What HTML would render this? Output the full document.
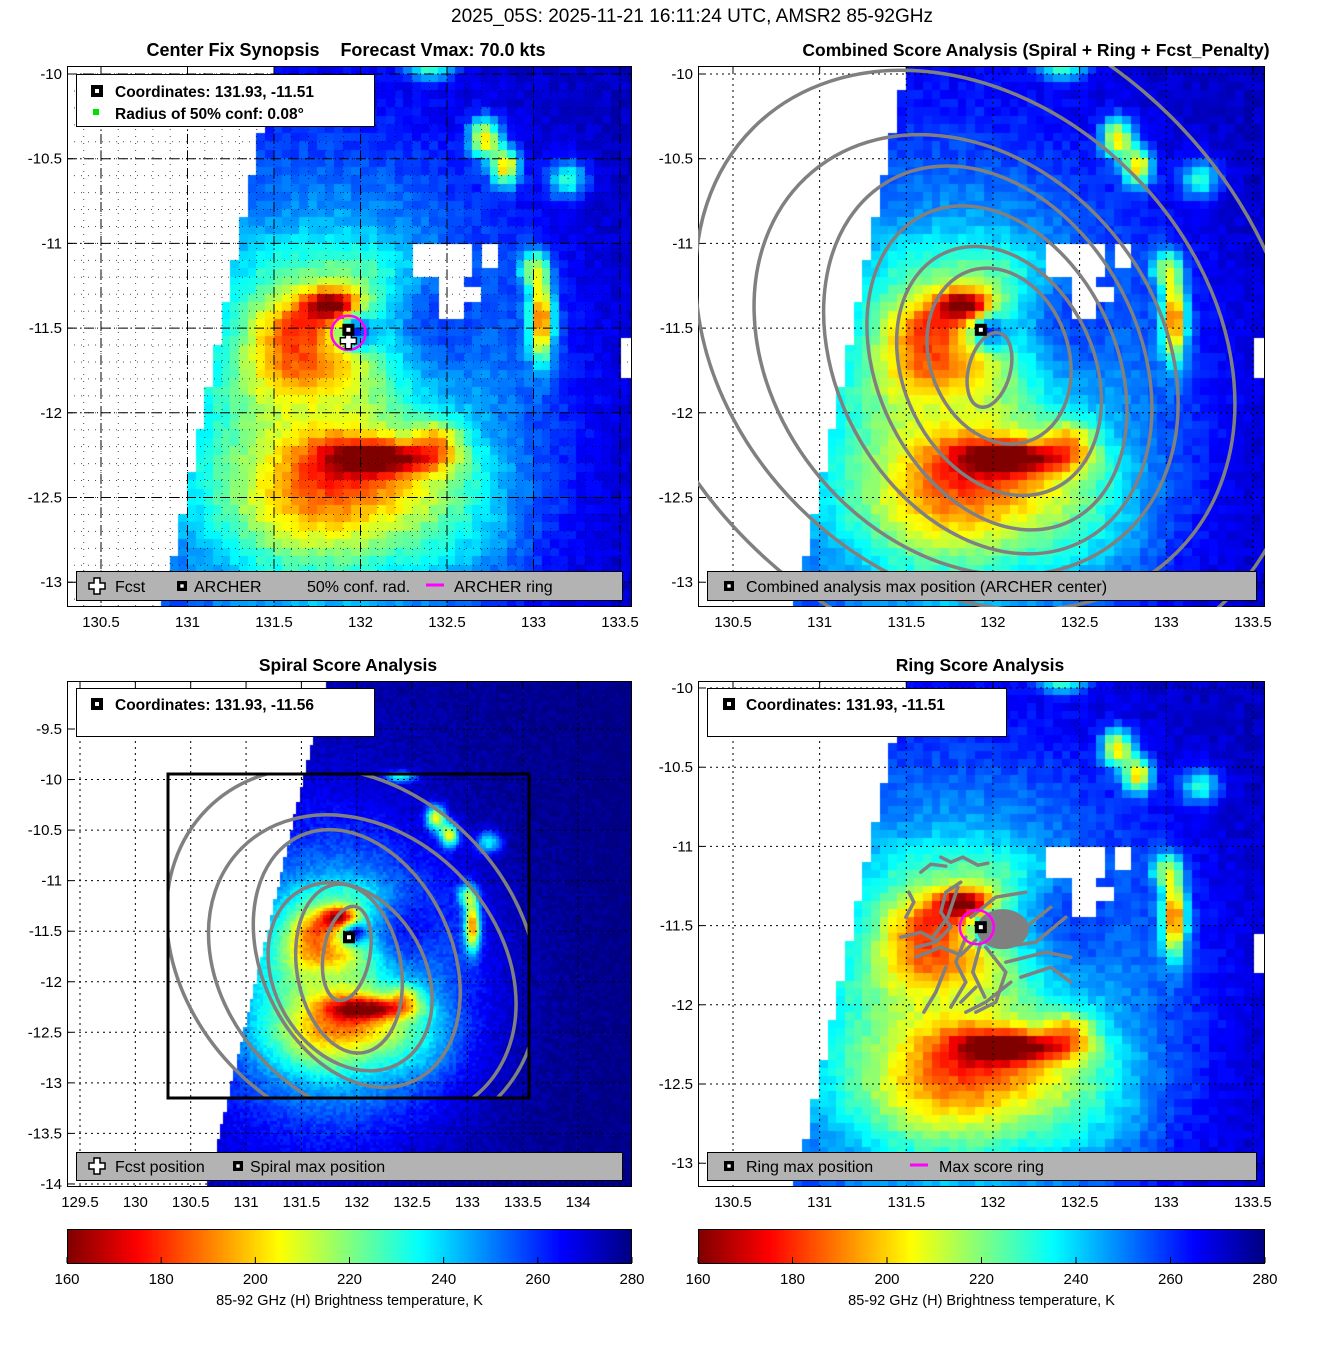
<!DOCTYPE html>
<html><head><meta charset="utf-8">
<style>
html,body{margin:0;padding:0;background:#fff;}
#root{position:relative;width:1317px;height:1350px;overflow:hidden;font-family:"Liberation Sans","DejaVu Sans",sans-serif;}
canvas{position:absolute;}
svg{position:absolute;left:0;top:0;}
</style></head>
<body>
<div id="root">
<canvas id="c1" style="left:67px;top:66px" width="565" height="541"></canvas>
<canvas id="c2" style="left:698px;top:66px" width="567" height="541"></canvas>
<canvas id="c3" style="left:67px;top:681px" width="565" height="506"></canvas>
<canvas id="c4" style="left:698px;top:681px" width="567" height="506"></canvas>
<canvas id="cb1" style="left:67px;top:1229px" width="565" height="34"></canvas>
<canvas id="cb2" style="left:698px;top:1229px" width="567" height="34"></canvas>
<svg id="ov" width="1317" height="1350"></svg>
</div>
<script>
// ---- data: brightness-temperature features [lon, lat, sigmaLon, sigmaLat, depthK]
const blobLon   = [131.85, 131.7, 131.85, 131.68, 131.78, 131.98, 132.4, 132.2, 132.45, 131.9, 132.2, 131.7, 132.72, 132.84, 133.2, 133.05, 133.0, 132.4, 131.5, 131.95, 132.55];
const blobLat   = [-12.0, -12.55, -11.36, -11.5, -11.75, -11.52, -11.55, -12.27, -12.15, -12.25, -12.45, -12.55, -10.38, -10.55, -10.62, -11.45, -11.15, -9.98, -11.6, -11.15, -12.75];
const blobSLon  = [0.75, 0.35, 0.12, 0.14, 0.2, 0.07, 0.22, 0.25, 0.1, 0.2, 0.4, 0.35, 0.06, 0.06, 0.08, 0.05, 0.06, 0.1, 0.15, 0.3, 0.3];
const blobSLat  = [0.9, 0.25, 0.07, 0.12, 0.1, 0.07, 0.3, 0.07, 0.08, 0.12, 0.15, 0.25, 0.08, 0.08, 0.08, 0.18, 0.08, 0.04, 0.25, 0.12, 0.2];
const blobDepth = [55, 15, 62, 32, 22, -40, -22, 50, 30, 20, 18, 12, 65, 65, 40, 75, 40, 40, 20, 12, 10];
const baseTb = 271;
// missing-data holes [lonMin, lonMax, latMax, latMin]
const holeLon0 = [132.31, 132.45, 132.6, 132.7, 133.48];
const holeLon1 = [132.63, 132.58, 132.68, 132.8, 133.6];
const holeLat0 = [-11.0, -11.18, -11.25, -11.0, -11.53];
const holeLat1 = [-11.18, -11.45, -11.35, -11.15, -11.82];
// colorbar
const cbTicks = [160, 180, 200, 220, 240, 260, 280];
// axis tick labels
const yTicksTop = [-10, -10.5, -11, -11.5, -12, -12.5, -13];
const xTicksMain = [130.5, 131, 131.5, 132, 132.5, 133, 133.5];
const yTicksSpiral = [-9.5, -10, -10.5, -11, -11.5, -12, -12.5, -13, -13.5, -14];
const xTicksSpiral = [129.5, 130, 130.5, 131, 131.5, 132, 132.5, 133, 133.5, 134];
// combined-score contours [lon, lat, rxDeg, ryDeg, rotDeg]
const combLon = [131.98, 132.035, 132.035, 132.023, 131.97, 131.845, 131.84, 131.81];
const combLat = [-11.747, -11.665, -11.753, -11.735, -11.688, -11.659, -11.57, -11.51];
const combRx  = [0.12, 0.52, 0.75, 0.98, 1.18, 1.38, 1.73, 2.19];
const combRy  = [0.22, 0.40, 0.55, 0.69, 0.87, 1.10, 1.36, 1.73];
const combRot = [15, 70, 65, 65, 62, 50, 45, 45];
// spiral-score contours
const spLon = [131.91, 131.93, 131.94, 132.0, 132.05, 131.96];
const spLat = [-11.72, -11.87, -11.95, -11.77, -11.87, -11.72];
const spRx  = [0.21, 0.77, 0.9, 1.22, 1.54, 1.85];
const spRy  = [0.43, 0.47, 0.68, 0.86, 1.22, 1.49];
const spRot = [10, 80, 60, 65, 45, 45];
// centers
const archerLon = 131.93, archerLat = -11.51;
const spiralLon = 131.93, spiralLat = -11.56;

function mk(x0px, lon0, sx, y0px, lat0, sy){return {x:l=>x0px+(l-lon0)*sx, y:t=>y0px+(lat0-t)*sy, sx:sx, sy:sy};}
const A1 = mk(101,130.5,173.0, 74,-10,169.4);
const A2 = mk(733,130.5,173.3, 74,-10,169.4);
const A3 = mk(80,129.5,110.7, 729,-9.5,101.1);
const A4 = mk(733,130.5,173.3, 688,-10,158.4);

function jet(T){
  let s = (T-160)/120; s = Math.max(0,Math.min(1,s)); s = 1-s;
  const c=v=>Math.round(255*Math.max(0,Math.min(1,v)));
  return [c(1.5-Math.abs(4*s-3)), c(1.5-Math.abs(4*s-2)), c(1.5-Math.abs(4*s-1))];
}
function texture(lon,lat){
  const v=Math.sin(lon*127.1+lat*311.7)*43758.5453;
  return (v-Math.floor(v)-0.5)*7;
}
function tb(lon,lat,off){
  let T = baseTb + (lon-132.5)*2 + (off||0);
  for(let i=0;i<blobLon.length;i++){
    const dx=(lon-blobLon[i])/blobSLon[i], dy=(lat-blobLat[i])/blobSLat[i];
    T -= blobDepth[i]*Math.exp(-0.5*(dx*dx+dy*dy));
  }
  T += texture(lon,lat);
  return Math.max(160,Math.min(282,T));
}
function inHole(lon,lat){
  for(let i=0;i<holeLon0.length;i++){
    if(lon>=holeLon0[i]&&lon<=holeLon1[i]&&lat<=holeLat0[i]&&lat>=holeLat1[i]) return true;
  }
  return false;
}
function drawField(id, A, left, top, step, edgeFn, holes, off){
  const cv=document.getElementById(id), ctx=cv.getContext('2d');
  const W=cv.width,H=cv.height;
  const l0=130.5+(left-A.x(130.5))/A.sx, l1=l0+W/A.sx;
  const t0=-10-(top-A.y(-10))/A.sy, t1=t0-H/A.sy;
  for(let lat=Math.ceil(t0/step)*step; lat>=t1-step; lat-=step){
    for(let lon=Math.floor(l0/step)*step; lon<=l1+step; lon+=step){
      const cl=lon+step/2, ct=lat-step/2;
      if(cl<edgeFn(ct)) continue;
      if(holes && inHole(cl,ct)) continue;
      const c=jet(tb(cl,ct,off));
      ctx.fillStyle='rgb('+c[0]+','+c[1]+','+c[2]+')';
      const x=A.x(lon)-left, y=A.y(lat)-top;
      ctx.fillRect(Math.floor(x),Math.floor(y),Math.ceil(step*A.sx)+1,Math.ceil(step*A.sy)+1);
    }
  }
}
const edgeMain = lat=>131.5+(lat+10)*0.2;
const edgeSpiral = lat=>131.69+(lat+9.23)*0.216;
drawField('c1',A1,67,66,0.05,edgeMain,true,0);
drawField('c2',A2,698,66,0.05,edgeMain,true,0);
drawField('c3',A3,67,681,0.03,edgeSpiral,false,5);
drawField('c4',A4,698,681,0.05,edgeMain,true,0);
['cb1','cb2'].forEach(id=>{
  const cv=document.getElementById(id),ctx=cv.getContext('2d');
  for(let x=0;x<cv.width;x++){const c=jet(160+120*x/cv.width);ctx.fillStyle='rgb('+c+')';ctx.fillRect(x,0,1,cv.height);}
});

const NS='http://www.w3.org/2000/svg', ov=document.getElementById('ov');
function el(tag,attrs,parent,text){const e=document.createElementNS(NS,tag);for(const k in attrs)e.setAttribute(k,attrs[k]);if(text!==undefined)e.textContent=text;(parent||ov).appendChild(e);return e;}
function txt(x,y,s,size,anchor,weight,parent,name){
  const t=el('text',{x:x,y:y,'font-size':size,'text-anchor':anchor||'start','font-weight':weight||'normal',fill:'#000'},parent,s);
  
  
  return t;
}
const defs=el('defs',{});
[['clip1',67,66,565,541],['clip2',698,66,567,541],['clip3',168,774,361,324],['clip4',698,681,567,506]].forEach(c=>{
  const cp=el('clipPath',{id:c[0]},defs);el('rect',{x:c[1],y:c[2],width:c[3],height:c[4]},cp);
});

txt(692,22,'2025_05S: 2025-11-21 16:11:24 UTC, AMSR2 85-92GHz',19,'middle','normal',ov,'figure-title');

function panel(name,A,bx,by,bw,bh,xt,yt,title,titleX,dense){
  const g=el('g',{});
  
  
  if(dense){
    for(let v=-9.9; v>-13.2; v-=0.1){const y=A.y(v);if(y>by&&y<by+bh)el('line',{x1:bx,x2:bx+bw,y1:y,y2:y,stroke:'#000','stroke-width':1,'stroke-dasharray':'1 6',opacity:0.7},g);}
    for(let v=130.4; v<133.6; v+=0.1){const x=A.x(v);if(x>bx&&x<bx+bw)el('line',{x1:x,x2:x,y1:by,y2:by+bh,stroke:'#000','stroke-width':1,'stroke-dasharray':'1 6',opacity:0.7},g);}
  }
  yt.forEach(v=>{const y=A.y(v);el('line',{x1:bx,x2:bx+bw,y1:y,y2:y,stroke:'#000','stroke-width':1,'stroke-dasharray':dense?'10 3 1 3':'2 4'},g);
    el('line',{x1:bx,x2:bx+6,y1:y,y2:y,stroke:'#000'},g);
    txt(bx-5,y+5,String(v),15,'end','normal',g,'y-tick-label');});
  xt.forEach(v=>{const x=A.x(v);el('line',{x1:x,x2:x,y1:by,y2:by+bh,stroke:'#000','stroke-width':1,'stroke-dasharray':dense?'10 3 1 3':'2 4'},g);
    el('line',{x1:x,x2:x,y1:by,y2:by+6,stroke:'#000'},g);
    txt(x,by+bh+20,String(v),15,'middle','normal',g,'x-tick-label');});
  el('rect',{x:bx+0.5,y:by+0.5,width:bw-1,height:bh-1,fill:'none',stroke:'#000','stroke-width':1},g);
  if(title) txt(titleX,by-10,title,17.5,'middle','bold',g,'panel-title');
  return g;
}
const p1=panel('center-fix-panel',A1,67,66,565,541,xTicksMain,yTicksTop,'',0,true);
txt(233,56,'Center Fix Synopsis',18,'middle','bold',p1,'panel-title');
txt(443,56,'Forecast Vmax: 70.0 kts',18,'middle','bold',p1,'panel-subtitle');
const p2=panel('combined-score-panel',A2,698,66,567,541,xTicksMain,yTicksTop,'Combined Score Analysis (Spiral + Ring + Fcst_Penalty)',1036,false);
const p3=panel('spiral-score-panel',A3,67,681,565,506,xTicksSpiral,yTicksSpiral,'Spiral Score Analysis',348,false);
const p4=panel('ring-score-panel',A4,698,681,567,506,xTicksMain,yTicksTop,'Ring Score Analysis',980,false);

function contours(A,lonA,latA,rxA,ryA,rotA,clip,name){
  const g=el('g',{'clip-path':'url(#'+clip+')'});
  
  
  for(let i=0;i<lonA.length;i++){
    const cx=A.x(lonA[i]),cy=A.y(latA[i]);
    const e=el('ellipse',{cx:cx,cy:cy,rx:rxA[i]*A.sx,ry:ryA[i]*A.sx,transform:'rotate('+rotA[i]+' '+cx+' '+cy+')',fill:'none',stroke:'#808080','stroke-width':3.5},g);
    
    
  }
}
contours(A2,combLon,combLat,combRx,combRy,combRot,'clip2','combined-contours');
contours(A3,spLon,spLat,spRx,spRy,spRot,'clip3','spiral-contours');

const box=el('rect',{x:168,y:774,width:361,height:324,fill:'none',stroke:'#000','stroke-width':3});



const rg=el('g',{'clip-path':'url(#clip4)',fill:'none',stroke:'#808080','stroke-width':3.5,'stroke-linecap':'round'});


const cx4=A4.x(archerLon), cy4=A4.y(archerLat);
['M-60,-55 l10,-8 15,2 M-40,-70 l10,5 12,-5 15,8 10,-2 M-20,-45 l-15,10 -5,20 10,15 -15,15 -20,5',
 'M-75,-10 l8,-15 -5,-10 M-80,10 l20,-5 15,8 M-65,30 l25,-10 20,8 15,-15 M-48,10 l15,-20 10,-30',
 'M-15,10 l-10,25 10,20 -15,25 M0,15 l-8,30 12,25 M5,20 l20,25 -10,30 -20,10',
 'M15,10 l30,-10 25,-20 M20,20 l35,-5 30,-25 M25,35 l40,-10 25,5 M40,50 l30,-10 20,15 M-10,-10 l25,-20 30,-5',
 'M-35,40 l-10,25 -12,20 M-5,60 l-15,15 M30,55 l-25,20 -20,10'
].forEach(d=>{const p=el('path',{d:d,transform:'translate('+cx4+','+cy4+')'},rg);});
const blob=el('ellipse',{cx:cx4+22,cy:cy4+2,rx:26,ry:20,fill:'#808080'});



function archer(x,y,name,sz){
  const g=el('g',{});
  
  
  sz=sz||12;
  el('rect',{x:x-sz/2,y:y-sz/2,width:sz,height:sz,fill:'#000'},g);
  el('rect',{x:x-sz/6,y:y-sz/6,width:sz/3,height:sz/3,fill:'#fff'},g);
  return g;
}
function fcst(x,y,name){
  const g=el('g',{});
  
  
  el('path',{d:'M'+(x-3)+','+(y-8)+'h6v5h5v6h-5v5h-6v-5h-5v-6h5z',fill:'#fff',stroke:'#000','stroke-width':1.5},g);
  return g;
}
const ring1=el('circle',{cx:A1.x(archerLon),cy:A1.y(archerLat)+3,r:17,fill:'none',stroke:'#ff00ff','stroke-width':2.5});


fcst(A1.x(archerLon),A1.y(archerLat)+11,'fcst-marker');
archer(A1.x(archerLon),A1.y(archerLat),'archer-marker');
archer(A2.x(archerLon),A2.y(archerLat),'combined-max-marker');
archer(A3.x(spiralLon),A3.y(spiralLat),'spiral-max-marker');
const ring4=el('circle',{cx:cx4-4,cy:cy4,r:17,fill:'none',stroke:'#ff00ff','stroke-width':2.5});


archer(cx4,cy4,'ring-max-marker');

function legendBox(x,y,w,h,fill,name){
  const g=el('g',{});
  
  
  el('rect',{x:x+0.5,y:y+0.5,width:w,height:h,fill:fill,stroke:'#000','stroke-width':1},g);
  return g;
}
let g;
g=legendBox(76,74,298,52,'#fff','info-box-center-fix');
archer(97,91,'legend-archer-icon');txt(115,97,'Coordinates: 131.93, -11.51',15.5,'start','bold',g,'coordinates-text');
el('rect',{x:93,y:109,width:6,height:6,fill:'#00e000'},g);txt(115,119,'Radius of 50% conf: 0.08°',15.5,'start','bold',g,'radius-text');
g=legendBox(76,571,546,29,'#b3b3b3','legend-center-fix');
fcst(97,586,'legend-fcst-icon');txt(115,592,'Fcst',16,'start','normal',g,'legend-entry');
archer(182,586,'legend-archer-icon',10);txt(194,592,'ARCHER',16,'start','normal',g,'legend-entry');
txt(307,592,'50% conf. rad.',16,'start','normal',g,'legend-entry');
el('line',{x1:426,x2:444,y1:585,y2:585,stroke:'#ff00ff','stroke-width':3},g);txt(454,592,'ARCHER ring',16,'start','normal',g,'legend-entry');
g=legendBox(707,571,549,29,'#b3b3b3','legend-combined');
archer(729,586,'legend-combined-icon',10);txt(746,592,'Combined analysis max position (ARCHER center)',16,'start','normal',g,'legend-entry');
g=legendBox(76,688,298,48,'#fff','info-box-spiral');
archer(97,704,'legend-spiral-icon');txt(115,710,'Coordinates: 131.93, -11.56',15.5,'start','bold',g,'coordinates-text');
g=legendBox(76,1152,546,28,'#b3b3b3','legend-spiral');
fcst(97,1166,'legend-fcst-icon');txt(115,1172,'Fcst position',16,'start','normal',g,'legend-entry');
archer(238,1166,'legend-spiral-icon',10);txt(250,1172,'Spiral max position',16,'start','normal',g,'legend-entry');
g=legendBox(707,688,299,48,'#fff','info-box-ring');
archer(729,704,'legend-ring-icon');txt(746,710,'Coordinates: 131.93, -11.51',15.5,'start','bold',g,'coordinates-text');
g=legendBox(707,1152,549,28,'#b3b3b3','legend-ring');
archer(729,1166,'legend-ring-icon',10);txt(746,1172,'Ring max position',16,'start','normal',g,'legend-entry');
el('line',{x1:910,x2:928,y1:1165,y2:1165,stroke:'#ff00ff','stroke-width':3},g);txt(939,1172,'Max score ring',16,'start','normal',g,'legend-entry');

[[67,565,'colorbar-axis-left'],[698,567,'colorbar-axis-right']].forEach(c=>{
  const g=el('g',{});
  
  
  el('rect',{x:c[0]+0.5,y:1229.5,width:c[1]-1,height:34,fill:'none',stroke:'#000'},g);
  cbTicks.forEach(v=>{const x=c[0]+(v-160)/120*c[1];
    el('line',{x1:x,x2:x,y1:1257,y2:1263,stroke:'#000'},g);
    txt(x,1284,String(v),15,'middle','normal',g,'colorbar-tick-label');});
  txt(c[0]+c[1]/2,1305,'85-92 GHz (H) Brightness temperature, K',14.5,'middle','normal',g,'colorbar-title');
});
</script>
</body></html>
